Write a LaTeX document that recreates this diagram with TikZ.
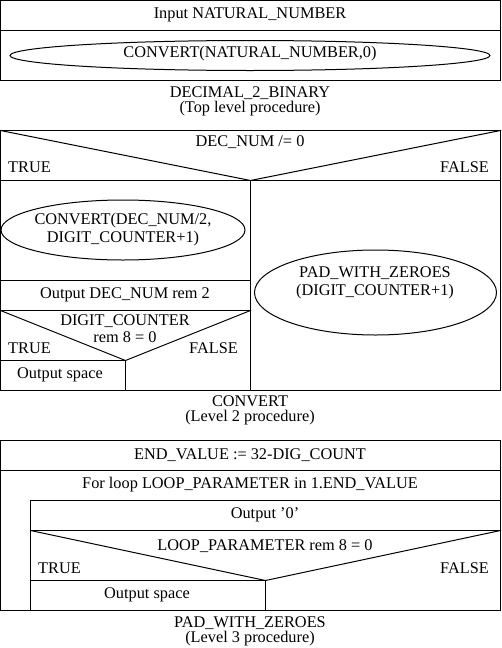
\documentclass[tikz,border=0pt]{standalone}
\usepackage{fontspec}
\setmainfont{Liberation Serif}
\usetikzlibrary{shapes.geometric}
\tikzset{
  ln/.style={line width=1pt, line cap=rect},
  txt/.style={inner sep=0pt, font=\fontsize{16.3}{16}\selectfont},
  oval/.style={draw, line width=1pt, ellipse, inner sep=0pt}
}
\begin{document}
\begin{tikzpicture}[x=1pt,y=-1pt]
\useasboundingbox (0,0) rectangle (501,648);
% ---------- Section 1 ----------
\draw[ln] (0.5,0.5) rectangle (500.5,80.5);
\draw[ln] (0.5,30.5) -- (500.5,30.5);
\node[txt] (in) at (250,15) {Input NATURAL\_NUMBER};
\node[oval, minimum width=480pt, minimum height=30pt] (e0) at (250,55.5) {};
\node[txt] (e0t) at (250,54) {CONVERT(NATURAL\_NUMBER,0)};
\node[txt] (c1a) at (250,93) {DECIMAL\_2\_BINARY};
\node[txt] (c1b) at (250,109) {(Top level procedure)};
% ---------- Section 2 ----------
\draw[ln] (0.5,130.5) rectangle (500.5,390.5);
\coordinate (d1l) at (0.5,130.5);
\coordinate (d1m) at (250.5,180.5);
\coordinate (d1r) at (500.5,130.5);
\draw[ln] (d1l) -- (d1m) -- (d1r);
\draw[ln] (0.5,180.5) -- (500.5,180.5);
\draw[ln] (250.5,180.5) -- (250.5,390.5);
\node[txt] (dn) at (250,142) {DEC\_NUM /= 0};
\node[txt, anchor=west] (t1) at (8,167.5) {TRUE};
\node[txt, anchor=east] (f1) at (489,167.5) {FALSE};
\node[oval, minimum width=244pt, minimum height=60pt] (e1) at (123,230) {};
\node[txt] (e1a) at (123,221) {CONVERT(DEC\_NUM/2,};
\node[txt] (e1b) at (123,239) {DIGIT\_COUNTER+1)};
\draw[ln] (0.5,280.5) -- (250.5,280.5);
\node[txt] (o1) at (125,295) {Output DEC\_NUM rem 2};
\draw[ln] (0.5,310.5) -- (250.5,310.5);
\coordinate (d2l) at (0.5,310.5);
\coordinate (d2m) at (125.5,360.5);
\coordinate (d2r) at (250.5,310.5);
\draw[ln] (d2l) -- (d2m) -- (d2r);
\node[txt] (dc1) at (125,321) {DIGIT\_COUNTER};
\node[txt] (dc2) at (125,337) {rem 8 = 0};
\node[txt, anchor=west] (t2) at (8,348) {TRUE};
\node[txt, anchor=east] (f2) at (238,348) {FALSE};
\draw[ln] (0.5,360.5) -- (125.5,360.5);
\draw[ln] (125.5,360.5) -- (125.5,390.5);
\node[txt] (os1) at (60,375) {Output space};
\node[oval, minimum width=242pt, minimum height=85pt] (e2) at (375.5,292.5) {};
\node[txt] (e2a) at (375,273) {PAD\_WITH\_ZEROES};
\node[txt] (e2b) at (375,292) {(DIGIT\_COUNTER+1)};
\node[txt] (c2a) at (250,401) {CONVERT};
\node[txt] (c2b) at (250,418) {(Level 2 procedure)};
% ---------- Section 3 ----------
\draw[ln] (0.5,440.5) rectangle (500.5,610.5);
\draw[ln] (0.5,470.5) -- (500.5,470.5);
\node[txt] (ev) at (250,455) {END\_VALUE := 32-DIG\_COUNT};
\node[txt] (fl) at (250,485) {For loop LOOP\_PARAMETER in 1.END\_VALUE};
\draw[ln] (30.5,500.5) -- (500.5,500.5);
\draw[ln] (30.5,500.5) -- (30.5,610.5);
\draw[ln] (30.5,530.5) -- (500.5,530.5);
\node[txt] (o0) at (265,515) {Output '0'};
\coordinate (d3l) at (30.5,530.5);
\coordinate (d3m) at (265.5,580.5);
\coordinate (d3r) at (500.5,530.5);
\draw[ln] (d3l) -- (d3m) -- (d3r);
\node[txt] (lp) at (265,546) {LOOP\_PARAMETER rem 8 = 0};
\node[txt, anchor=west] (t3) at (38,568) {TRUE};
\node[txt, anchor=east] (f3) at (489,568) {FALSE};
\draw[ln] (30.5,580.5) -- (265.5,580.5);
\draw[ln] (265.5,580.5) -- (265.5,610.5);
\node[txt] (os2) at (147,595) {Output space};
\node[txt] (c3a) at (250,623) {PAD\_WITH\_ZEROES};
\node[txt] (c3b) at (250,639) {(Level 3 procedure)};
\end{tikzpicture}
\end{document}
